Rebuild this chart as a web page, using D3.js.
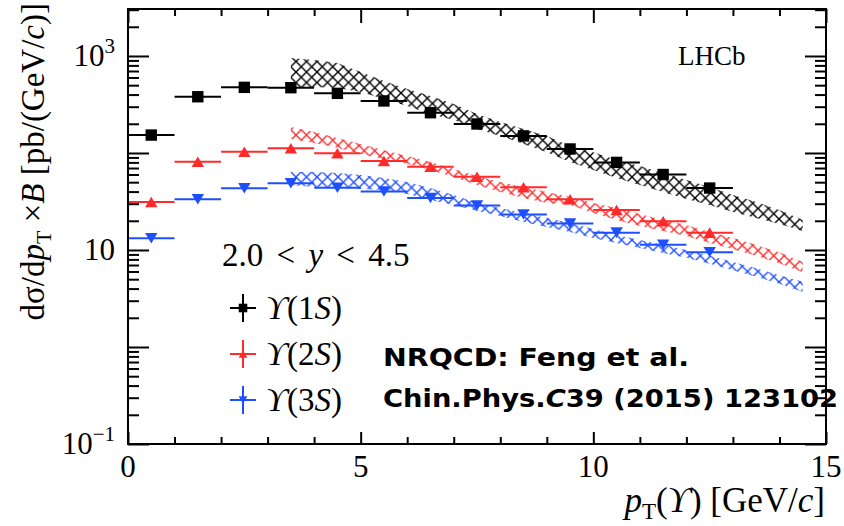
<!DOCTYPE html>
<html>
<head>
<meta charset="utf-8">
<style>
    body { margin: 0; background: #fff; }
    text { font-family: "Liberation Serif", "DejaVu Serif", serif; fill: #000; }
    .note { font-family: "DejaVu Sans", "Noto Sans", sans-serif; font-weight: bold; }
</style>
</head>
<body>
<svg width="844" height="526"></svg>
<script src="https://d3js.org/d3.v7.min.js"></script>
<script>
// measured cross sections, bins of 1 GeV/c
var binCenters = [0.5, 1.5, 2.5, 3.5, 4.5, 5.5, 6.5, 7.5, 8.5, 9.5, 10.5, 11.5, 12.5];
var ups1S = [153, 380, 475, 471, 412, 344, 260, 199, 150, 110, 80, 60, 43.5];
var ups2S = [31.3, 81.3, 103, 112, 99.3, 82.7, 72.3, 57, 44.3, 33.3, 25.8, 19.8, 15.1];
var ups3S = [13.2, 33.3, 43.3, 48.7, 43.9, 40, 34.4, 28.8, 23.2, 18.7, 15.1, 11.3, 9.5];

// NRQCD bands (Feng et al.)
var thPt = [3.5, 4, 4.5, 5, 5.5, 6, 6.5, 7, 7.5, 8, 8.5, 9, 9.5, 10, 10.5, 11, 11.5, 12, 12.5, 13, 13.5, 14, 14.5];
var th1SHi = [953, 910, 847, 684, 552, 457, 387, 320, 252, 209, 177, 150, 118, 102, 84.7, 73.5, 62.2, 52.7, 44.6, 36.9, 31.3, 25.8, 20.4];
var th1SLo = [479, 479, 468, 425, 360, 305, 252, 219, 177, 150, 124, 102, 80.7, 66.8, 55.2, 46.8, 39.6, 33.6, 29.1, 24.7, 21.4, 18.5, 15.7];
var th2SHi = [185, 165, 143, 124, 107, 93.1, 80.7, 68.4, 57.9, 50.2, 44.6, 39.6, 35.2, 30.5, 27.1, 23.5, 20.4, 18.1, 15.3, 13.3, 11.3, 9.5, 7.5];
var th2SLo = [139, 127, 113, 97.7, 86.7, 77.1, 66.8, 56.6, 46.8, 39.6, 34.4, 30.5, 29.1, 24.0, 20.4, 17.7, 15.7, 13.9, 11.8, 10.2, 8.7, 7.3, 5.9];
var th3SHi = [63.7, 63.7, 62.2, 59.3, 55.2, 50.2, 43.6, 36.9, 30.5, 27.1, 24.0, 21.4, 19.0, 16.5, 14.3, 12.7, 11.3, 10.0, 8.7, 7.5, 6.5, 5.5, 4.7];
var th3SLo = [46.8, 44.6, 43.6, 42.6, 41.6, 37.8, 32.7, 29.1, 25.2, 22.4, 19.4, 17.3, 15.3, 13.3, 11.8, 10.5, 9.3, 8.3, 7.2, 6.2, 5.3, 4.5, 3.7];

var xMajor = [0, 5, 10, 15];
var xMinor = [1, 2, 3, 4, 6, 7, 8, 9, 11, 12, 13, 14];
var yLabelVals = [0.1, 10, 1000];
var yLabelExp = ["\u22121", "", "3"];

var svg = d3.select("svg"),
    margin = {top: 9, right: 18, bottom: 82, left: 128},
    width = +svg.attr("width") - margin.left - margin.right,
    height = +svg.attr("height") - margin.top - margin.bottom,
    g = svg.append("g").attr("transform", "translate(" + margin.left + "," + margin.top + ")");

var x = d3.scaleLinear().domain([0, 15]).range([0, width]);
var y = d3.scaleLog().domain([0.1, 3050]).range([height, 0]);

var colors = {s1: "#000000", s2: "#ff2a2a", s3: "#1e4fff"};

// hatch patterns
var defs = svg.append("defs");
[["s1", colors.s1], ["s2", colors.s2], ["s3", colors.s3]].forEach(function(p) {
    defs.append("pattern")
        .attr("id", "hatch-" + p[0])
        .attr("patternUnits", "userSpaceOnUse")
        .attr("width", 10.5).attr("height", 10.5)
        .append("path")
        .attr("d", "M0,0L10.5,10.5M10.5,0L0,10.5")
        .attr("stroke", p[1])
        .attr("stroke-width", 1.4)
        .attr("fill", "none");
});

var bands = [
    {key: "s1", lo: th1SLo, hi: th1SHi},
    {key: "s2", lo: th2SLo, hi: th2SHi},
    {key: "s3", lo: th3SLo, hi: th3SHi}
];

var area = d3.area()
    .x(function(d) { return x(d.pt); })
    .y0(function(d) { return y(d.lo); })
    .y1(function(d) { return y(d.hi); });

bands.forEach(function(b) {
    var pts = thPt.map(function(p, i) { return {pt: p, lo: b.lo[i], hi: b.hi[i]}; });
    g.append("path")
        .datum(pts)
        .attr("d", area)
        .attr("fill", "url(#hatch-" + b.key + ")");
});

// markers
function square(s) { return "M" + (-s) + "," + (-s) + "h" + (2 * s) + "v" + (2 * s) + "h" + (-2 * s) + "z"; }
function triUp(s) { return "M0," + (-s * 0.85) + "L" + (s) + "," + (s * 0.85) + "L" + (-s) + "," + (s * 0.85) + "z"; }
function triDown(s) { return "M0," + (s * 0.85) + "L" + (s) + "," + (-s * 0.85) + "L" + (-s) + "," + (-s * 0.85) + "z"; }

var series = [
    {key: "s1", vals: ups1S, shape: square, size: 5.7},
    {key: "s2", vals: ups2S, shape: triUp, size: 6.2},
    {key: "s3", vals: ups3S, shape: triDown, size: 6.2}
];

series.forEach(function(s) {
    var c = colors[s.key];
    var sg = g.append("g");
    sg.selectAll("line")
        .data(s.vals)
        .enter().append("line")
        .attr("x1", function(d, i) { return x(binCenters[i] - 0.5); })
        .attr("x2", function(d, i) { return x(binCenters[i] + 0.5); })
        .attr("y1", function(d) { return y(d); })
        .attr("y2", function(d) { return y(d); })
        .attr("stroke", c)
        .attr("stroke-width", 2);
    sg.selectAll("path")
        .data(s.vals)
        .enter().append("path")
        .attr("transform", function(d, i) { return "translate(" + x(binCenters[i]) + "," + y(d) + ")"; })
        .attr("d", s.shape(s.size))
        .attr("fill", c);
});

// axes: ticks on all four sides
function tickSet(axis, vals, size) {
    return axis.tickValues(vals).tickSize(size).tickFormat("");
}
var yMajor = [0.1, 1, 10, 100, 1000];
var yMinor = [];
[0.1, 1, 10, 100, 1000].forEach(function(dec) {
    for (var k = 2; k <= 9; k++) { if (dec * k <= 3050) yMinor.push(dec * k); }
});

var axes = g.append("g").attr("class", "ticks");
axes.append("g").attr("transform", "translate(0," + height + ")").call(tickSet(d3.axisBottom(x), xMajor, -12));
axes.append("g").attr("transform", "translate(0," + height + ")").call(tickSet(d3.axisBottom(x), xMinor, -7));
axes.append("g").call(tickSet(d3.axisTop(x), xMajor, -14));
axes.append("g").call(tickSet(d3.axisTop(x), xMinor, -7));
axes.append("g").call(tickSet(d3.axisLeft(y), yMajor, -21));
axes.append("g").call(tickSet(d3.axisLeft(y), yMinor, -11));
axes.append("g").attr("transform", "translate(" + width + ",0)").call(tickSet(d3.axisRight(y), yMajor, -21));
axes.append("g").attr("transform", "translate(" + width + ",0)").call(tickSet(d3.axisRight(y), yMinor, -11));
axes.selectAll(".domain").remove();
axes.selectAll(".tick line").attr("stroke", "#000").attr("stroke-width", 2);

g.append("rect")
    .attr("width", width).attr("height", height)
    .attr("fill", "none").attr("stroke", "#000").attr("stroke-width", 2);

// tick labels
g.append("g").selectAll("text")
    .data(xMajor)
    .enter().append("text")
    .attr("x", function(d) { return x(d); })
    .attr("y", height + 33)
    .attr("text-anchor", "middle")
    .attr("font-size", 31)
    .text(function(d) { return d; });

var yl = g.append("g").selectAll("text")
    .data(yLabelVals)
    .enter().append("text")
    .attr("x", -13)
    .attr("y", function(d) { return y(d) + 10; })
    .attr("text-anchor", "end")
    .attr("font-size", 31);
yl.append("tspan").text("10");
yl.append("tspan")
    .attr("dy", -13)
    .attr("font-size", 21)
    .text(function(d, i) { return yLabelExp[i]; });

// axis titles
var xt = svg.append("text")
    .attr("x", 825).attr("y", 512)
    .attr("text-anchor", "end")
    .attr("font-size", 35);
xt.append("tspan").attr("font-style", "italic").text("p");
xt.append("tspan").attr("dy", 7).attr("font-size", 23).text("T");
xt.append("tspan").attr("dy", -7).text("(");
xt.append("tspan").attr("font-style", "italic").text("\u03d2");
xt.append("tspan").text(") [GeV/");
xt.append("tspan").attr("font-style", "italic").text("c");
xt.append("tspan").text("]");

var yt = svg.append("text")
    .attr("transform", "translate(44,3) rotate(-90)")
    .attr("text-anchor", "end")
    .attr("font-size", 33);
yt.append("tspan").text("d\u03c3/d");
yt.append("tspan").attr("font-style", "italic").text("p");
yt.append("tspan").attr("dy", 7).attr("font-size", 22).text("T");
yt.append("tspan").attr("dy", -7).text(" \u00d7");
yt.append("tspan").attr("font-style", "italic").text("B");
yt.append("tspan").text(" [pb/(GeV/");
yt.append("tspan").attr("font-style", "italic").text("c");
yt.append("tspan").text(")]");

// LHCb label
svg.append("text")
    .attr("x", 678).attr("y", 65)
    .attr("font-size", 27)
    .text("LHCb");

// legend
var rap = svg.append("text")
    .attr("x", 222).attr("y", 266)
    .attr("font-size", 33)
    .attr("word-spacing", 5);
rap.append("tspan").text("2.0 < ");
rap.append("tspan").attr("font-style", "italic").text("y");
rap.append("tspan").text(" < 4.5");

var legendNames = ["1", "2", "3"];
var legendYs = [308, 354, 400];
var legend = svg.append("g")
    .selectAll("g")
    .data(series)
    .enter().append("g")
    .attr("transform", function(d, i) { return "translate(243," + legendYs[i] + ")"; });

legend.append("line").attr("x1", -13).attr("x2", 13)
    .attr("stroke", function(d) { return colors[d.key]; }).attr("stroke-width", 2);
legend.append("line").attr("y1", -14).attr("y2", 14)
    .attr("stroke", function(d) { return colors[d.key]; }).attr("stroke-width", 2);
legend.append("path")
    .attr("d", function(d) { return d.shape(4.3); })
    .attr("fill", function(d) { return colors[d.key]; });

var lt = legend.append("text")
    .attr("x", 23).attr("y", 11)
    .attr("font-size", 33);
lt.append("tspan").attr("font-style", "italic").text("\u03d2");
lt.append("tspan").text(function(d, i) { return "(" + legendNames[i]; });
lt.append("tspan").attr("font-style", "italic").text("S");
lt.append("tspan").text(")");

// theory reference
svg.append("text")
    .attr("class", "note")
    .attr("x", 383).attr("y", 366)
    .attr("font-size", 25)
    .attr("textLength", 306).attr("lengthAdjust", "spacingAndGlyphs")
    .text("NRQCD: Feng et al.");
var ref = svg.append("text")
    .attr("class", "note")
    .attr("x", 383).attr("y", 407)
    .attr("font-size", 25)
    .attr("textLength", 455).attr("lengthAdjust", "spacingAndGlyphs");
ref.append("tspan").text("Chin.Phys.");
ref.append("tspan").attr("font-style", "italic").text("C");
ref.append("tspan").text("39 (2015) 123102");
</script>
</body>
</html>
